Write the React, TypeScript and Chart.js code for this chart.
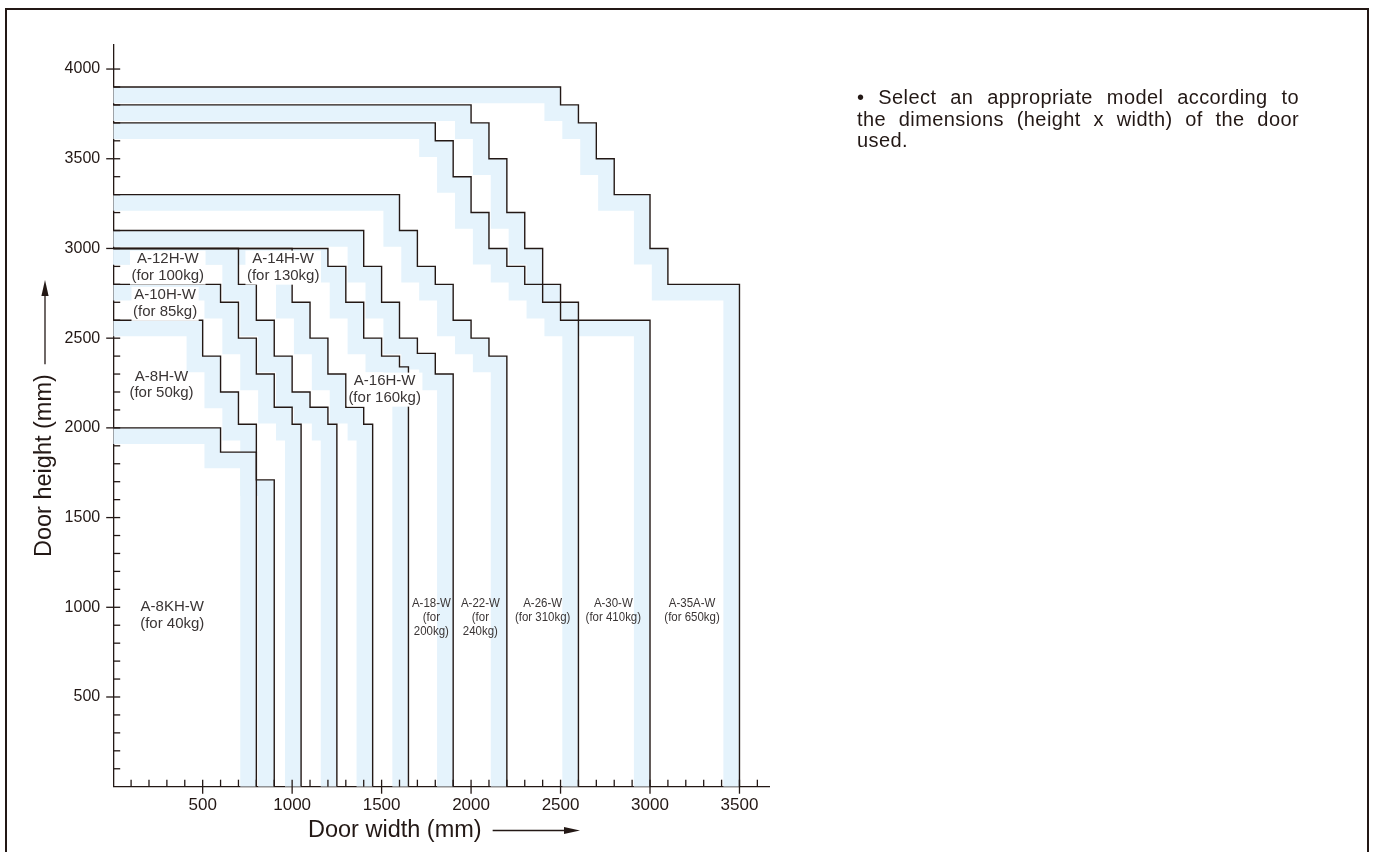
import React, { useEffect, useRef } from 'react';
import { Chart, registerables } from 'chart.js';

Chart.register(...registerables);

// ---------- data ----------
const MODELS = ['A-8KH-W', 'A-8H-W', 'A-10H-W', 'A-12H-W', 'A-14H-W', 'A-16H-W', 'A-18-W', 'A-22-W', 'A-26-W', 'A-30-W', 'A-35A-W'];
const CAPACITIES = ['40kg', '50kg', '85kg', '100kg', '130kg', '160kg', '200kg', '240kg', '310kg', '410kg', '650kg'];

// Step corners of each model's limit line: door width (mm) allowed up to each door height (mm)
const W_A8KH = [600, 800, 900];
const H_A8KH = [2000, 1865, 1710];
const W_A8H = [500, 600, 700, 800];
const H_A8H = [2600, 2400, 2200, 2020];
const W_A10H = [600, 700, 800, 900, 1000, 1050];
const H_A10H = [2800, 2700, 2500, 2300, 2115, 2020];
const W_A12H = [700, 800, 900, 1000, 1100, 1200, 1250];
const H_A12H = [3000, 2800, 2600, 2400, 2200, 2115, 2020];
const W_A14H = [1000, 1100, 1200, 1300, 1400, 1450];
const H_A14H = [3000, 2700, 2500, 2300, 2115, 2020];
const W_A16H = [1200, 1300, 1400, 1500, 1600, 1650];
const H_A16H = [3000, 2900, 2700, 2500, 2400, 2340];
const W_A18 = [1400, 1500, 1600, 1700, 1800, 1900];
const H_A18 = [3100, 2900, 2700, 2500, 2415, 2300];
const W_A22 = [1600, 1700, 1800, 1900, 2000, 2100, 2200];
const H_A22 = [3300, 3100, 2900, 2800, 2600, 2500, 2400];
const W_A26 = [2000, 2100, 2200, 2300, 2400, 2600];
const H_A26 = [3800, 3700, 3500, 3200, 3000, 2700];
const W_A30 = [1800, 1900, 2000, 2100, 2200, 2300, 2500, 3000];
const H_A30 = [3700, 3600, 3400, 3200, 3000, 2900, 2800, 2600];
const W_A35A = [2500, 2600, 2700, 2800, 3000, 3100, 3500];
const H_A35A = [3900, 3800, 3700, 3500, 3300, 3000, 2800];

const STEP_WIDTHS = [W_A8KH, W_A8H, W_A10H, W_A12H, W_A14H, W_A16H, W_A18, W_A22, W_A26, W_A30, W_A35A];
const STEP_HEIGHTS = [H_A8KH, H_A8H, H_A10H, H_A12H, H_A14H, H_A16H, H_A18, H_A22, H_A26, H_A30, H_A35A];

const X_TICKS = [500, 1000, 1500, 2000, 2500, 3000, 3500];
const Y_TICKS = [500, 1000, 1500, 2000, 2500, 3000, 3500, 4000];
const MINOR_STEP = 100;
const X_MINOR_LAST = 3600;
const Y_MINOR_LAST = 4000;
const X_MAX = 3665;
const Y_MAX = 4134;
const BAND_DEPTH = 90; // mm, tolerance band inside each limit line

const NOTE_LINES = [
  '\u2022 Select an appropriate model according to',
  'the dimensions (height x width) of the door',
  'used.',
];

// ---------- styles ----------
const INK = '#231815';
const LABEL_INK = '#3a3535';
const BAND = '#e5f3fc';
const FONT = "'Liberation Sans', Arial, Helvetica, sans-serif";

// label placement (data coordinates, mm) and look
const LABEL_LAYOUT = [
  { x: 330, y: 1000, size: 15, gap: 16.5, sx: 1, box: false, split: false },
  { x: 270, y: 2285, size: 15, gap: 16.5, sx: 1, box: false, split: false },
  { x: 290, y: 2740, size: 15, gap: 16.5, sx: 1, box: true, split: false },
  { x: 305, y: 2942, size: 15, gap: 16.5, sx: 1, box: true, split: false },
  { x: 950, y: 2942, size: 15, gap: 16.5, sx: 1, box: true, split: false },
  { x: 1517, y: 2262, size: 15, gap: 16.5, sx: 1, box: true, split: false },
  { x: 1778, y: 1025, size: 13.5, gap: 14, sx: 0.85, box: false, split: true },
  { x: 2052, y: 1025, size: 13.5, gap: 14, sx: 0.85, box: false, split: true },
  { x: 2400, y: 1025, size: 13.5, gap: 14, sx: 0.85, box: false, split: false },
  { x: 2795, y: 1025, size: 13.5, gap: 14, sx: 0.85, box: false, split: false },
  { x: 3235, y: 1025, size: 13.5, gap: 14, sx: 0.85, box: false, split: false },
];

function stairs(ws: number[], hs: number[]) {
  const pts = [{ x: 0, y: hs[0] }];
  for (let i = 0; i < ws.length; i++) {
    pts.push({ x: ws[i], y: hs[i] });
    pts.push({ x: ws[i], y: i + 1 < hs.length ? hs[i + 1] : 0 });
  }
  return pts;
}

function bandShape(pts: { x: number; y: number }[], d: number) {
  const inner = pts.map((p) => ({ x: Math.max(p.x - d, 0), y: Math.max(p.y - d, 0) }));
  return [...pts, ...inner.reverse()];
}

function arrow(ctx: CanvasRenderingContext2D, x1: number, y1: number, x2: number, y2: number) {
  const ang = Math.atan2(y2 - y1, x2 - x1);
  const len = 16;
  const hw = 3.6;
  const bx = x2 - Math.cos(ang) * len;
  const by = y2 - Math.sin(ang) * len;
  ctx.beginPath();
  ctx.moveTo(x1, y1);
  ctx.lineTo(bx, by);
  ctx.stroke();
  ctx.beginPath();
  ctx.moveTo(x2, y2);
  ctx.lineTo(bx - Math.sin(ang) * hw, by + Math.cos(ang) * hw);
  ctx.lineTo(bx + Math.sin(ang) * hw, by - Math.cos(ang) * hw);
  ctx.closePath();
  ctx.fill();
}

const decorPlugin = {
  id: 'decor',
  afterDatasetsDraw(chart: any) {
    const { ctx, scales } = chart;
    const xs = scales.x;
    const ys = scales.y;
    const ax = xs.getPixelForValue(0);
    const ay = ys.getPixelForValue(0);
    ctx.save();
    // tick marks
    ctx.strokeStyle = INK;
    ctx.lineWidth = 1.3;
    for (let v = MINOR_STEP; v <= Y_MINOR_LAST; v += MINOR_STEP) {
      const py = ys.getPixelForValue(v);
      const major = Y_TICKS.includes(v);
      ctx.beginPath();
      ctx.moveTo(major ? ax - 7 : ax, py);
      ctx.lineTo(ax + 7, py);
      ctx.stroke();
    }
    for (let v = MINOR_STEP; v <= X_MINOR_LAST; v += MINOR_STEP) {
      const px = xs.getPixelForValue(v);
      const major = X_TICKS.includes(v);
      ctx.beginPath();
      ctx.moveTo(px, major ? ay + 7 : ay);
      ctx.lineTo(px, ay - 7);
      ctx.stroke();
    }
    // model labels
    LABEL_LAYOUT.forEach((L, i) => {
      const lines = L.split
        ? [MODELS[i], '(for', CAPACITIES[i] + ')']
        : [MODELS[i], '(for ' + CAPACITIES[i] + ')'];
      const cx = xs.getPixelForValue(L.x);
      const cy = ys.getPixelForValue(L.y);
      ctx.font = `${L.size}px ${FONT}`;
      if (L.box) {
        const w = Math.max(...lines.map((t) => ctx.measureText(t).width)) * L.sx;
        ctx.fillStyle = '#ffffff';
        const top = cy - L.size * 0.55;
        const bottom = cy + (lines.length - 1) * L.gap + L.size * 0.62;
        ctx.fillRect(cx - w / 2 - 1.5, top, w + 3, bottom - top);
      }
      ctx.fillStyle = LABEL_INK;
      ctx.textAlign = 'center';
      ctx.textBaseline = 'middle';
      lines.forEach((t, k) => {
        ctx.save();
        ctx.translate(cx, cy + k * L.gap);
        ctx.scale(L.sx, 1);
        ctx.fillText(t, 0, 0);
        ctx.restore();
      });
    });
    ctx.restore();
  },
  afterDraw(chart: any) {
    const { ctx } = chart;
    ctx.save();
    ctx.fillStyle = INK;
    ctx.strokeStyle = INK;
    ctx.lineWidth = 1.3;
    ctx.font = `23.5px ${FONT}`;
    ctx.textBaseline = 'alphabetic';
    ctx.textAlign = 'left';
    // x title
    const xt = 'Door width (mm)';
    const xw = ctx.measureText(xt).width;
    ctx.fillText(xt, 308, 836.5);
    arrow(ctx, 308 + xw + 11, 830.5, 580, 830.5);
    // y title
    const yt = 'Door height (mm)';
    const yw = ctx.measureText(yt).width;
    ctx.save();
    ctx.translate(51, 557);
    ctx.rotate(-Math.PI / 2);
    ctx.fillText(yt, 0, 0);
    ctx.restore();
    arrow(ctx, 45, 557 - yw - 10, 45, 280);
    ctx.restore();
  },
};

export default function App() {
  const ref = useRef<HTMLCanvasElement | null>(null);

  useEffect(() => {
    const canvas = ref.current;
    if (!canvas) return;
    const lines = STEP_WIDTHS.map((ws, i) => stairs(ws, STEP_HEIGHTS[i]));
    const bandSets = lines.map((pts, i) => ({
      label: MODELS[i] + ' band',
      data: bandShape(pts, BAND_DEPTH),
      fill: 'shape',
      backgroundColor: BAND,
      borderColor: 'rgba(0,0,0,0)',
      borderWidth: 0,
      pointRadius: 0,
      tension: 0,
      order: 2,
    }));
    const lineSets = lines.map((pts, i) => ({
      label: MODELS[i],
      data: pts,
      fill: false,
      borderColor: INK,
      borderWidth: 1.4,
      borderJoinStyle: 'miter',
      borderCapStyle: 'butt',
      pointRadius: 0,
      tension: 0,
      order: 1,
    }));
    const chart = new Chart(canvas, {
      type: 'line',
      data: { datasets: [...lineSets, ...bandSets] as any },
      options: {
        animation: false,
        responsive: false,
        events: [],
        layout: { padding: { left: 0, top: 45, right: 606, bottom: 0 } },
        plugins: { legend: { display: false }, tooltip: { enabled: false }, title: { display: false } },
        scales: {
          x: {
            type: 'linear',
            min: 0,
            max: X_MAX,
            afterBuildTicks: (s: any) => {
              s.ticks = X_TICKS.map((v) => ({ value: v }));
            },
            afterFit: (s: any) => {
              s.height = 65.3;
            },
            ticks: {
              autoSkip: false,
              maxRotation: 0,
              minRotation: 0,
              padding: 8,
              color: INK,
              font: { family: FONT, size: 17 },
              callback: (v: any) => String(v),
            },
            grid: { display: true, drawOnChartArea: false, drawTicks: false },
            border: { display: true, color: INK, width: 1.3 },
          },
          y: {
            type: 'linear',
            min: 0,
            max: Y_MAX,
            afterBuildTicks: (s: any) => {
              s.ticks = Y_TICKS.map((v) => ({ value: v }));
            },
            afterFit: (s: any) => {
              s.width = 113.2;
            },
            ticks: {
              autoSkip: false,
              padding: 13,
              color: INK,
              font: { family: FONT, size: 16 },
              callback: (v: any) => String(v),
            },
            grid: { display: true, drawOnChartArea: false, drawTicks: false },
            border: { display: true, color: INK, width: 1.3 },
          },
        },
      } as any,
      plugins: [decorPlugin],
    });
    return () => chart.destroy();
  }, []);

  return (
    <div>
      <div
        style={{
          position: 'fixed',
          left: 5.3,
          top: 8.3,
          width: 1364,
          height: 900,
          boxSizing: 'border-box',
          borderLeft: `2.2px solid ${INK}`,
          borderTop: `2.2px solid ${INK}`,
          borderRight: `2.2px solid ${INK}`,
        }}
      />
      <canvas
        ref={ref}
        width={1375}
        height={852}
        style={{ position: 'fixed', left: 0, top: 0, width: 1375, height: 852 }}
      />
      <div
        style={{
          position: 'fixed',
          left: 857,
          top: 87.3,
          width: 442,
          fontFamily: FONT,
          fontSize: 20,
          lineHeight: '21.5px',
          letterSpacing: '0.4px',
          color: INK,
        }}
      >
        {NOTE_LINES.map((t, i) => (
          <div
            key={i}
            style={{
              whiteSpace: 'nowrap',
              textAlign: i < NOTE_LINES.length - 1 ? 'justify' : 'left',
              textAlignLast: i < NOTE_LINES.length - 1 ? 'justify' : 'left',
            }}
          >
            {t}
          </div>
        ))}
      </div>
    </div>
  );
}
